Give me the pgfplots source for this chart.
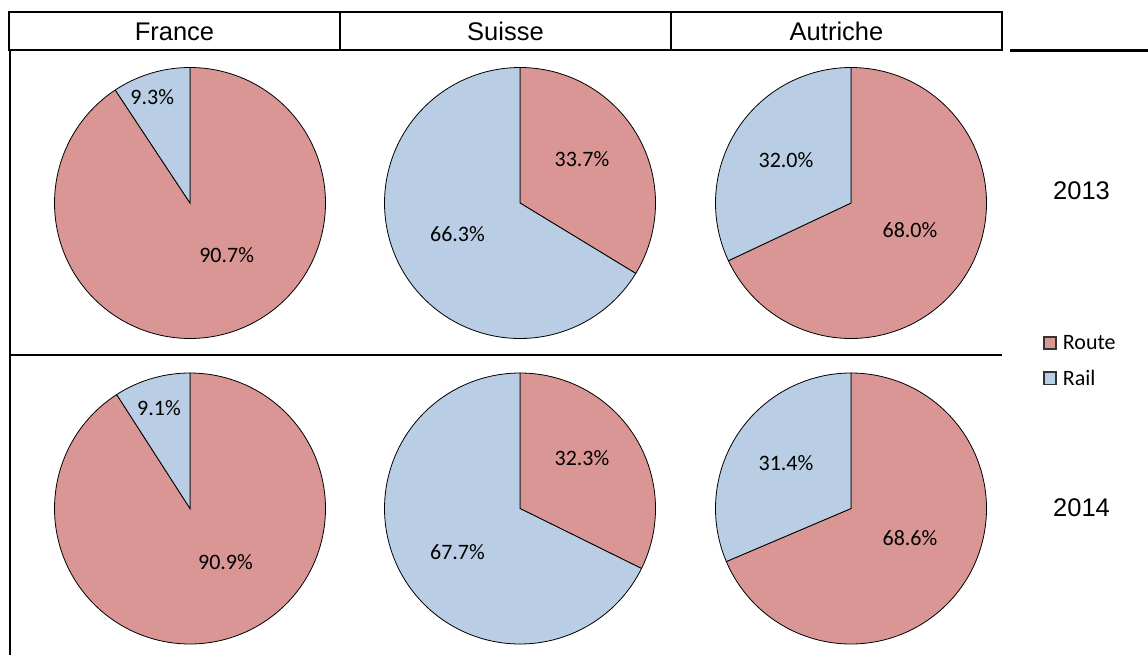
\documentclass[border=0pt]{standalone}
\usepackage{pgfplots}
\pgfplotsset{compat=1.18}
\usepackage{fontspec}
\setmainfont{Liberation Sans}
\newfontfamily\carlito{Carlito}

\definecolor{route}{HTML}{D99694}
\definecolor{rail}{HTML}{B9CDE5}

% one pie: centre x, centre y (px from top left), Route %, Rail %
\newcommand\pie[4]{%
  \begin{axis}[at={(#1bp,-#2bp)}, anchor=center,
      scale only axis, width=271bp, height=271bp,
      xmin=-1, xmax=1, ymin=-1, ymax=1,
      hide axis, clip=false]
    \addplot[fill=route, draw=black, line width=0.8bp,
      variable=\t, domain={90-3.6*#3}:90, samples=150]
      ({cos(\t)}, {sin(\t)}) -- (0,0) -- cycle;
    \addplot[fill=rail, draw=black, line width=0.8bp,
      variable=\t, domain=90:{90+3.6*#4}, samples=150]
      ({cos(\t)}, {sin(\t)}) -- (0,0) -- cycle;
  \end{axis}}

\begin{document}
\begin{tikzpicture}[x=1bp, y=-1bp]
  \path[use as bounding box] (0,0) rectangle (1148,655);

  % 2013
  \pie{190}{203}{90.7}{9.3}
  \pie{520}{203}{33.7}{66.3}
  \pie{851}{203}{68.0}{32.0}
  % 2014
  \pie{190}{508.5}{90.9}{9.1}
  \pie{520}{508.5}{32.3}{67.7}
  \pie{851}{508.5}{68.6}{31.4}

  % table lines
  \draw[line width=2.2bp] (9,12.3) rectangle (1002,50);
  \draw[line width=2.2bp] (340,12.3) -- (340,50);
  \draw[line width=2.2bp] (671,12.3) -- (671,50);
  \draw[line width=2.2bp] (1010,50.5) -- (1148,50.5);
  \draw[line width=2.2bp] (10,50) -- (10,655);
  \draw[line width=2.2bp] (10,355) -- (1002,355);

  % headers
  \begin{scope}[every node/.style={anchor=base, inner sep=0pt,
      font=\fontsize{25.5bp}{30bp}\selectfont}]
    \node at (174.5,41) {France};
    \node at (505.5,41) {Suisse};
    \node at (836.5,41) {Autriche};
    \node at (1081.5,200) {2013};
    \node at (1081.5,516.7) {2014};
  \end{scope}

  % slice labels
  \begin{scope}[every node/.style={anchor=base, inner sep=0pt,
      font=\carlito\fontsize{22bp}{25bp}\selectfont}]
    \node at (152.2,104.3) {9.3\%};
    \node at (226.7,262.3) {90.7\%};
    \node at (582,166.7) {33.7\%};
    \node at (457.5,241.7) {66.3\%};
    \node at (786,167.7) {32.0\%};
    \node at (910,237.3) {68.0\%};
    \node at (159,415.7) {9.1\%};
    \node at (225.5,569.3) {90.9\%};
    \node at (582,465.7) {32.3\%};
    \node at (457.5,559) {67.7\%};
    \node at (786,470) {31.4\%};
    \node at (910,545.7) {68.6\%};
  \end{scope}

  % legend
  \draw[fill=route, draw=black!80, line width=1.5bp] (1043.8,337.2) rectangle (1056.2,348.8);
  \draw[fill=rail, draw=black!80, line width=1.5bp] (1043.8,372.2) rectangle (1056.2,384.5);
  \node[anchor=base west, inner sep=0pt, font=\carlito\fontsize{22bp}{25bp}\selectfont]
    at (1062.7,349.3) {Route};
  \node[anchor=base west, inner sep=0pt, font=\carlito\fontsize{22bp}{25bp}\selectfont]
    at (1062.7,385.5) {Rail};
\end{tikzpicture}
\end{document}
